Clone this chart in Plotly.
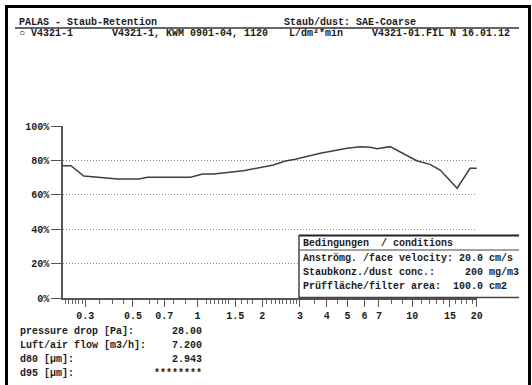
import plotly.graph_objects as go

# ---------------- data ----------------
size_um = [0.236, 0.257, 0.295, 0.354, 0.424, 0.532, 0.586, 0.928, 1.055, 1.187,
           1.637, 2.255, 2.567, 2.856, 3.73, 4.98, 5.72, 6.37, 6.87, 7.89,
           9.47, 10.5, 12.1, 13.5, 16.2, 18.6, 20.0]
efficiency = [76.9, 76.9, 70.9, 70.2, 69.2, 69.2, 70.2, 70.2, 72.1, 72.1,
              74.0, 77.3, 79.7, 80.7, 84.1, 87.0, 88.0, 87.6, 86.8, 88.0,
              82.6, 79.8, 77.7, 74.4, 63.8, 75.4, 75.4]

y_ticks = [0, 20, 40, 60, 80, 100]
y_labels = ["0%", "20%", "40%", "60%", "80%", "100%"]
x_major = [0.3, 0.5, 0.7, 1, 1.5, 2, 3, 4, 5, 6, 7, 10, 15, 20]
x_major_labels = ["0.3", "0.5", "0.7", "1", "1.5", "2", "3", "4", "5", "6", "7", "10", "15", "20"]
x_minor = [0.243, 0.251, 0.262, 0.271, 0.28, 0.291, 0.35, 0.4, 0.45, 0.6, 0.65, 0.77, 0.88,
           1.1, 1.15, 1.2, 1.25, 1.3, 1.35, 1.4, 1.6, 1.7, 1.8,
           2.1, 2.2, 2.3, 2.4, 2.5, 2.6, 2.7, 2.8, 2.9, 3.5, 4.5, 8, 9,
           11, 12, 13, 14, 16, 17, 18, 19]

header_left = "PALAS - Staub-Retention"
header_right = "Staub/dust: SAE-Coarse"
line2_a = "○ V4321-1"
line2_b = "V4321-1, KWM 0901-04, 1120"
line2_c = "L/dm²*min"
line2_d = "V4321-01.FIL N 16.01.12"

cond_title = "Bedingungen  / conditions"
cond_rows = ["Anströmg. /face velocity: 20.0 cm/s",
             "Staubkonz./dust conc.:     200 mg/m3",
             "Prüffläche/filter area:  100.0 cm2"]

result_labels = ["pressure drop [Pa]:", "Luft/air flow [m3/h]:", "d80 [µm]:", "d95 [µm]:"]
result_values = ["28.00", "7.200", "2.943", "********"]

# ---------------- layout geometry ----------------
W, H = 532, 385
L, R, T, B = 63, 55, 126, 87
PW, PH = W - L - R, H - T - B


def px(x):
    return (x - L) / PW


def py(y):
    return (H - B - y) / PH


FONT = "Liberation Mono"
TXT = "#1c1c1c"

fig = go.Figure()
fig.add_trace(go.Scatter(x=size_um, y=efficiency, mode="lines",
                         line=dict(color="#404040", width=1.5),
                         showlegend=False, hoverinfo="skip"))

ann = []


def text(x, y, s, anchor="left", size=10):
    ann.append(dict(x=px(x), y=py(y), xref="paper", yref="paper", text=s,
                    showarrow=False, xanchor=anchor, yanchor="middle",
                    font=dict(family=FONT, size=size, color=TXT, weight="bold")))


text(17, 22, header_left)
text(282, 22, header_right)
text(17, 34, line2_a)
text(110, 34, line2_b)
text(287, 34, line2_c)
text(370, 34, line2_d)

text(301, 243, cond_title)
for i, row in enumerate(cond_rows):
    text(301, 258 + 14 * i, row)

for i, (lab, val) in enumerate(zip(result_labels, result_values)):
    text(18, 331 + 14 * i, lab)
    text(204, 331 + 14 * i, val, anchor="right")

shapes = []


def hline(x0, x1, y, w=1, c="#222"):
    shapes.append(dict(type="line", xref="paper", yref="paper",
                       x0=px(x0), x1=px(x1), y0=py(y), y1=py(y),
                       line=dict(color=c, width=w)))


def vline(x, y0, y1, w=1, c="#222"):
    shapes.append(dict(type="line", xref="paper", yref="paper",
                       x0=px(x), x1=px(x), y0=py(y0), y1=py(y1),
                       line=dict(color=c, width=w)))


# conditions box background
shapes.append(dict(type="rect", xref="paper", yref="paper",
                   x0=px(299), x1=px(519), y0=py(297.5), y1=py(235.5),
                   fillcolor="white", line=dict(width=0), layer="above"))
# page frame
hline(5, 530, 6.5, w=3, c="#000")
vline(6.5, 5, 385, w=3, c="#000")
vline(529.5, 5, 385, w=3, c="#000")
# header rule
hline(15, 519, 28, w=1.5, c="#333")
# conditions box lines
hline(299, 519, 235.5, w=2, c="#222")
hline(299, 519, 250, w=1, c="#444")
hline(299, 519, 297.5, w=1.5, c="#444")
vline(299, 235, 298, w=1.5, c="#444")

fig.update_layout(
    width=W, height=H,
    margin=dict(l=L, r=R, t=T, b=B),
    paper_bgcolor="white", plot_bgcolor="white",
    annotations=ann, shapes=shapes,
    font=dict(family=FONT, size=10, color=TXT),
    xaxis=dict(type="log", range=[-0.627, 1.302],
               tickmode="array", tickvals=x_major, ticktext=x_major_labels,
               ticks="outside", ticklen=7, tickwidth=1, tickcolor="#555",
               showline=True, linecolor="#555", linewidth=1.5,
               showgrid=False, zeroline=False,
               tickfont=dict(family=FONT, size=10, color=TXT, weight="bold"),
               minor=dict(tickmode="array", tickvals=x_minor, ticks="outside",
                          ticklen=4, tickwidth=1, tickcolor="#666", showgrid=False)),
    yaxis=dict(range=[0, 100], tickmode="array", tickvals=y_ticks, ticktext=y_labels,
               ticks="outside", ticklen=10, tickwidth=1, tickcolor="#555",
               showline=True, linecolor="#555", linewidth=1.5,
               showgrid=True, gridcolor="#888", gridwidth=1, griddash="1px,2px",
               zeroline=False,
               tickfont=dict(family=FONT, size=10, color=TXT, weight="bold")),
)

fig.write_html("out.html")
